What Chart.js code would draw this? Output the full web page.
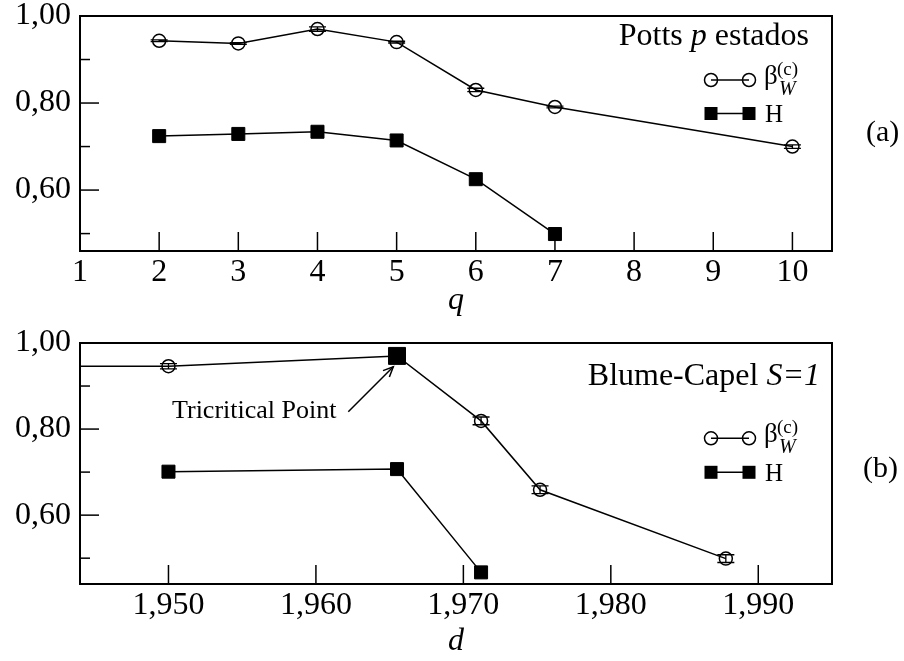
<!DOCTYPE html>
<html><head><meta charset="utf-8">
<script src="https://cdn.jsdelivr.net/npm/chart.js@4.4.1/dist/chart.umd.min.js"></script>
<style>
html,body{margin:0;padding:0;background:#fff;}
#wrap{position:relative;width:904px;height:661px;overflow:hidden;background:#fff;}
canvas{position:absolute;left:0;}
#ca{top:0;}
#cb{top:320px;}
</style></head><body>
<div id="wrap"><canvas id="ca" width="904" height="330"></canvas><canvas id="cb" width="904" height="341"></canvas></div>
<script>
// ---------- Panel (a): Potts ----------
const qBeta = [2, 3, 4, 5, 6, 7, 10];
const pottsBeta = [0.943, 0.937, 0.970, 0.940, 0.830, 0.791, 0.700];
const pottsBetaErr = [0.002, 0.002, 0.005, 0.002, 0.004, 0.002, 0.004];
const qH = [2, 3, 4, 5, 6, 7];
const pottsH = [0.724, 0.729, 0.734, 0.714, 0.625, 0.499];

// ---------- Panel (b): Blume-Capel ----------
const dBeta = [1.935, 1.950, 1.9655, 1.9712, 1.9752, 1.9878];
const bcBeta = [0.946, 0.946, 0.970, 0.819, 0.659, 0.499];
const bcBetaErr = [0, 0.006, 0, 0.009, 0.009, 0.009];
const dH = [1.950, 1.9655, 1.9712];
const bcH = [0.701, 0.707, 0.467];
const tricriticalD = [1.9655];
const tricriticalV = [0.970];

const SERIF = '"Liberation Serif", "Times New Roman", serif';
const f = (size, style) => (style ? style + ' ' : '') + size + 'px ' + SERIF;

function pts(xs, ys) { return xs.map((x, i) => ({x: x, y: ys[i]})); }
function yLabel(v) {
  const k = Math.round(v * 10);
  return k % 2 === 0 ? v.toFixed(2).replace('.', ',') : '';
}

function drawRuns(ctx, runs, xRight, baseline) {
  let total = 0;
  runs.forEach(r => { ctx.font = r.font; total += ctx.measureText(r.t).width; });
  let x = xRight - total;
  ctx.textAlign = 'left';
  ctx.textBaseline = 'alphabetic';
  runs.forEach(r => { ctx.font = r.font; ctx.fillText(r.t, x, baseline); x += ctx.measureText(r.t).width; });
}

function drawLegend(ctx, cyBeta, cyH) {
  ctx.save();
  ctx.strokeStyle = '#000'; ctx.fillStyle = '#000'; ctx.lineWidth = 1.5;
  const x1 = 711, x2 = 749, r = 6.5;
  ctx.beginPath(); ctx.moveTo(x1, cyBeta); ctx.lineTo(x2, cyBeta); ctx.stroke();
  [x1, x2].forEach(x => { ctx.beginPath(); ctx.arc(x, cyBeta, r, 0, Math.PI * 2); ctx.stroke(); });
  ctx.beginPath(); ctx.moveTo(x1, cyH); ctx.lineTo(x2, cyH); ctx.stroke();
  [x1, x2].forEach(x => ctx.fillRect(x - 6.5, cyH - 6.5, 13, 13));
  ctx.textAlign = 'left'; ctx.textBaseline = 'alphabetic';
  ctx.font = f(27); ctx.fillText('β', 764, cyBeta + 4);
  ctx.font = f(19); ctx.fillText('(c)', 777, cyBeta - 5);
  ctx.font = f(20, 'italic'); ctx.fillText('W', 779, cyBeta + 15);
  ctx.font = f(25); ctx.fillText('H', 765, cyH + 8.5);
  ctx.restore();
}

function decor(cfg) {
  return {
    id: 'decor',
    afterDatasetsDraw(chart) {
      const ctx = chart.ctx, xs = chart.scales.x, ys = chart.scales.y, a = chart.chartArea;
      ctx.save();
      ctx.strokeStyle = '#000'; ctx.lineWidth = 1.3;
      // error bars
      cfg.errors.forEach(e => {
        e.xs.forEach((xv, i) => {
          const err = e.err[i];
          if (!err) return;
          const px = xs.getPixelForValue(xv);
          if (px < a.left || px > a.right) return;
          const y1 = ys.getPixelForValue(e.ys[i] + err), y2 = ys.getPixelForValue(e.ys[i] - err);
          ctx.beginPath();
          ctx.moveTo(px, y1); ctx.lineTo(px, y2);
          ctx.moveTo(px - 8.5, y1); ctx.lineTo(px + 8.5, y1);
          ctx.moveTo(px - 8.5, y2); ctx.lineTo(px + 8.5, y2);
          ctx.stroke();
        });
      });
      // ticks (inward)
      ctx.lineWidth = 1.5;
      xs.ticks.forEach(t => {
        const px = xs.getPixelForValue(t.value);
        if (px <= a.left + 1 || px >= a.right - 1) return;
        ctx.beginPath(); ctx.moveTo(px, a.bottom); ctx.lineTo(px, a.bottom - 19); ctx.stroke();
      });
      ys.ticks.forEach(t => {
        const py = ys.getPixelForValue(t.value);
        const major = Math.round(t.value * 10) % 2 === 0;
        ctx.beginPath(); ctx.moveTo(a.left, py); ctx.lineTo(a.left + (major ? 19 : 10), py); ctx.stroke();
      });
      // frame
      ctx.lineWidth = 2;
      ctx.strokeRect(a.left, a.top, a.right - a.left, a.bottom - a.top);
      ctx.restore();
    },
    afterDraw(chart) {
      const ctx = chart.ctx;
      ctx.save();
      ctx.fillStyle = '#000'; ctx.strokeStyle = '#000';
      cfg.text(ctx, chart);
      ctx.restore();
    }
  };
}

function zeroPad(s) { s.paddingTop = 0; s.paddingBottom = 0; s.paddingLeft = 0; s.paddingRight = 0; }

function makeOptions(xmin, xmax, step, xfmt, ymin, padTop, padBottom, xHeight, xTitle) {
  return {
    responsive: false, devicePixelRatio: 1, animation: false,
    layout: {padding: {left: 0, right: 72, top: padTop, bottom: padBottom}},
    plugins: {legend: {display: false}, tooltip: {enabled: false}},
    elements: {line: {tension: 0}},
    scales: {
      x: {
        type: 'linear', min: xmin, max: xmax,
        grid: {display: false, drawTicks: false}, border: {display: false},
        ticks: {stepSize: step, includeBounds: false, autoSkip: false, maxRotation: 0, padding: 2,
          color: '#000', font: {family: SERIF, size: 32}, callback: xfmt},
        title: {display: true, text: xTitle, color: '#000', padding: 0,
          font: {family: SERIF, size: 32, style: 'italic'}},
        afterFit(s) { s.height = xHeight; zeroPad(s); }
      },
      y: {
        type: 'linear', min: ymin, max: 1.0,
        grid: {display: false, drawTicks: false}, border: {display: false},
        ticks: {stepSize: 0.1, includeBounds: false, autoSkip: false, padding: 9,
          color: '#000', font: {family: SERIF, size: 32}, callback: yLabel},
        afterFit(s) { s.width = 80; zeroPad(s); }
      }
    }
  };
}

const circleDs = (data, radii) => ({
  data: data, borderColor: '#000', borderWidth: 1.5,
  pointStyle: 'circle', pointRadius: radii || 6.5, pointBorderWidth: 1.5,
  pointBackgroundColor: 'rgba(0,0,0,0)', pointBorderColor: '#000', fill: false
});
const squareDs = (data, r) => ({
  data: data, borderColor: '#000', borderWidth: 1.5,
  pointStyle: 'rect', pointRadius: r, pointBorderWidth: 1,
  pointBackgroundColor: '#000', pointBorderColor: '#000', fill: false
});

// Panel (a)
new Chart(document.getElementById('ca'), {
  type: 'line',
  data: {datasets: [circleDs(pts(qBeta, pottsBeta)), squareDs(pts(qH, pottsH), 9.2)]},
  options: makeOptions(1, 10.5, 1, v => String(v), 0.46, 16, 10, 69, 'q'),
  plugins: [decor({
    errors: [{xs: qBeta, ys: pottsBeta, err: pottsBetaErr}],
    text(ctx) {
      drawRuns(ctx, [{t: 'Potts ', font: f(32)}, {t: 'p', font: f(32, 'italic')}, {t: ' estados', font: f(32)}], 809, 45);
      drawLegend(ctx, 80, 113.5);
      ctx.font = f(30); ctx.textAlign = 'left'; ctx.textBaseline = 'alphabetic';
      ctx.fillText('(a)', 866, 141);
    }
  })]
});

// Panel (b)
new Chart(document.getElementById('cb'), {
  type: 'line',
  data: {datasets: [
    circleDs(pts(dBeta, bcBeta), dBeta.map((d, i) => i === 0 ? 0 : 6.5)),
    squareDs(pts(dH, bcH), 9.2),
    Object.assign(squareDs(pts(tricriticalD, tricriticalV), 12), {showLine: false})
  ]},
  options: makeOptions(1.944, 1.995, 0.01, v => v.toFixed(3).replace('.', ','), 0.44, 23, 0, 77, 'd'),
  plugins: [decor({
    errors: [{xs: dBeta, ys: bcBeta, err: bcBetaErr}],
    text(ctx) {
      drawRuns(ctx, [{t: 'Blume-Capel ', font: f(32)}, {t: 'S=1', font: f(32, 'italic')}], 820, 65);
      drawLegend(ctx, 118.3, 152.3);
      ctx.font = f(30); ctx.textAlign = 'left'; ctx.textBaseline = 'alphabetic';
      ctx.fillText('(b)', 863, 157);
      ctx.font = f(26);
      ctx.fillText('Tricritical Point', 172, 98);
      // arrow
      const tx = 348.3, ty = 91.7, hx = 393.3, hy = 46.7;
      ctx.lineWidth = 1.5;
      ctx.beginPath(); ctx.moveTo(tx, ty); ctx.lineTo(hx, hy); ctx.stroke();
      const ang = Math.atan2(hy - ty, hx - tx), L = 11, sp = 0.42;
      ctx.beginPath();
      ctx.moveTo(hx - L * Math.cos(ang - sp), hy - L * Math.sin(ang - sp));
      ctx.lineTo(hx, hy);
      ctx.lineTo(hx - L * Math.cos(ang + sp), hy - L * Math.sin(ang + sp));
      ctx.stroke();
    }
  })]
});
</script>
</body></html>
